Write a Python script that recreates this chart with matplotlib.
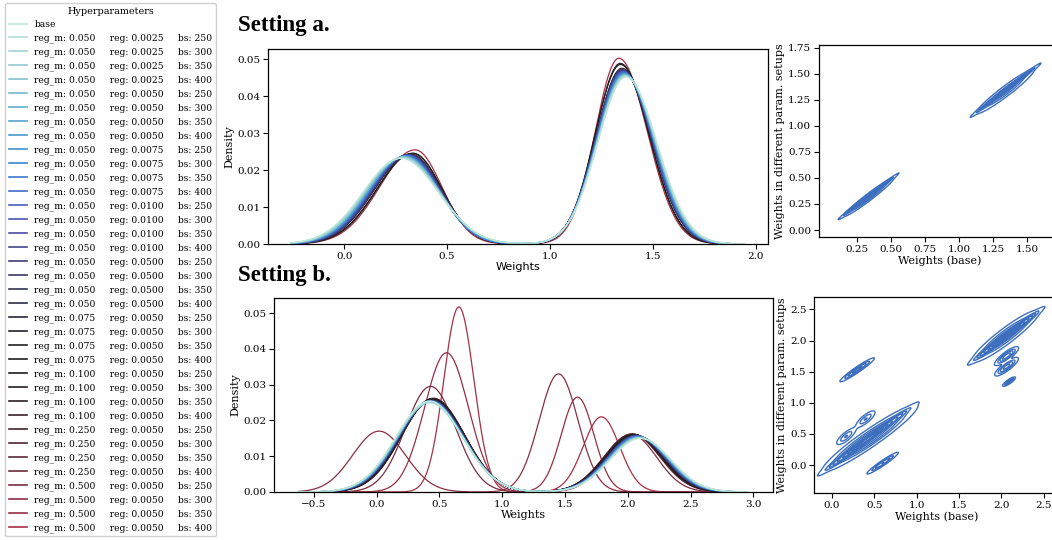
import numpy as np
import matplotlib
matplotlib.use("Agg")
import matplotlib.pyplot as plt
import seaborn as sns
from matplotlib.lines import Line2D

plt.rcParams['font.family'] = ['DejaVu Serif']

# hyperparameter settings (index 0 = base)
reg_m = [0.05] * 20 + [0.075] * 4 + [0.1] * 4 + [0.25] * 4 + [0.5] * 4
reg = [0.0025] * 4 + [0.005] * 4 + [0.0075] * 4 + [0.01] * 4 + [0.05] * 4 + [0.005] * 16
bs = [250, 300, 350, 400] * 9

# Setting a: two modes per run (center, height, left sd, right sd)
a_c1 = [0.275, 0.278, 0.281, 0.284, 0.287, 0.290, 0.292, 0.294, 0.296, 0.298, 0.300, 0.302, 0.304,
        0.306, 0.308, 0.310, 0.312, 0.316, 0.318, 0.320, 0.322, 0.305, 0.307, 0.309, 0.311, 0.333,
        0.334, 0.313, 0.315, 0.310, 0.312, 0.314, 0.316, 0.318, 0.320, 0.322, 0.345]
a_h1 = [0.0232, 0.0233, 0.0234, 0.0234, 0.0235, 0.0236, 0.0236, 0.0237, 0.0237, 0.0238, 0.0238,
        0.0239, 0.0239, 0.0240, 0.0240, 0.0241, 0.0241, 0.0242, 0.0242, 0.0243, 0.0243, 0.0239,
        0.0239, 0.0240, 0.0240, 0.0245, 0.0246, 0.0241, 0.0241, 0.0240, 0.0240, 0.0241, 0.0241,
        0.0242, 0.0242, 0.0243, 0.0255]
a_sl1 = [0.183, 0.182, 0.182, 0.181, 0.181, 0.180, 0.180, 0.180, 0.179, 0.179, 0.179, 0.178, 0.178,
         0.178, 0.177, 0.177, 0.177, 0.176, 0.176, 0.176, 0.176, 0.178, 0.178, 0.177, 0.177, 0.175,
         0.174, 0.177, 0.177, 0.177, 0.177, 0.177, 0.176, 0.176, 0.176, 0.176, 0.173]
a_sr1 = [0.183, 0.180, 0.178, 0.176, 0.174, 0.172, 0.170, 0.168, 0.166, 0.164, 0.162, 0.160, 0.158,
         0.157, 0.156, 0.155, 0.154, 0.152, 0.151, 0.150, 0.149, 0.158, 0.157, 0.156, 0.155, 0.142,
         0.141, 0.154, 0.153, 0.156, 0.155, 0.154, 0.153, 0.152, 0.151, 0.150, 0.130]
a_c2 = [1.370, 1.368, 1.367, 1.366, 1.365, 1.364, 1.363, 1.362, 1.361, 1.360, 1.359, 1.358, 1.357,
        1.356, 1.355, 1.354, 1.353, 1.352, 1.351, 1.350, 1.350, 1.358, 1.357, 1.356, 1.355, 1.343,
        1.342, 1.354, 1.353, 1.356, 1.355, 1.354, 1.353, 1.352, 1.351, 1.350, 1.335]
a_h2 = [0.0452, 0.0454, 0.0455, 0.0456, 0.0457, 0.0458, 0.0459, 0.0460, 0.0461, 0.0462, 0.0463,
        0.0464, 0.0465, 0.0466, 0.0467, 0.0468, 0.0469, 0.0470, 0.0471, 0.0472, 0.0476, 0.0465,
        0.0466, 0.0467, 0.0468, 0.0486, 0.0489, 0.0469, 0.0470, 0.0466, 0.0467, 0.0468, 0.0469,
        0.0470, 0.0471, 0.0472, 0.0503]
a_sl2 = [0.138, 0.137, 0.137, 0.136, 0.136, 0.135, 0.135, 0.134, 0.134, 0.133, 0.133, 0.132, 0.132,
         0.131, 0.131, 0.130, 0.130, 0.129, 0.129, 0.128, 0.127, 0.132, 0.132, 0.131, 0.131, 0.124,
         0.122, 0.130, 0.130, 0.131, 0.131, 0.130, 0.130, 0.129, 0.129, 0.128, 0.115]
a_sr2 = [0.150, 0.149, 0.149, 0.148, 0.148, 0.147, 0.147, 0.147, 0.146, 0.146, 0.146, 0.145, 0.145,
         0.145, 0.144, 0.144, 0.144, 0.143, 0.143, 0.143, 0.142, 0.145, 0.145, 0.145, 0.144, 0.140,
         0.139, 0.144, 0.144, 0.145, 0.144, 0.144, 0.144, 0.143, 0.143, 0.143, 0.138]

# Setting b
b_c1 = [0.420, 0.421, 0.422, 0.423, 0.424, 0.425, 0.426, 0.427, 0.428, 0.429, 0.430, 0.431, 0.432,
        0.433, 0.434, 0.435, 0.436, 0.437, 0.438, 0.439, 0.440, 0.441, 0.442, 0.443, 0.444, 0.445,
        0.446, 0.447, 0.448, 0.449, 0.450, 0.451, 0.452, 0.430, 0.020, 0.557, 0.655]
b_h1 = [0.0254, 0.0250, 0.0251, 0.0252, 0.0253, 0.0250, 0.0251, 0.0252, 0.0253, 0.0254, 0.0252,
        0.0253, 0.0254, 0.0255, 0.0253, 0.0254, 0.0255, 0.0256, 0.0254, 0.0255, 0.0256, 0.0257,
        0.0256, 0.0257, 0.0258, 0.0258, 0.0259, 0.0259, 0.0260, 0.0260, 0.0261, 0.0261, 0.0262,
        0.0295, 0.0170, 0.0389, 0.0517]
b_s1 = [0.265, 0.266, 0.265, 0.264, 0.264, 0.263, 0.263, 0.262, 0.262, 0.261, 0.261, 0.260, 0.260,
        0.259, 0.259, 0.258, 0.258, 0.257, 0.257, 0.256, 0.256, 0.255, 0.255, 0.254, 0.254, 0.253,
        0.253, 0.252, 0.252, 0.251, 0.251, 0.250, 0.250, 0.200, 0.210, 0.175, 0.120]
b_c2 = [2.100, 2.098, 2.096, 2.094, 2.092, 2.090, 2.088, 2.086, 2.084, 2.082, 2.080, 2.078, 2.076,
        2.074, 2.072, 2.070, 2.068, 2.066, 2.064, 2.062, 2.060, 2.058, 2.056, 2.054, 2.052, 2.050,
        2.048, 2.046, 2.044, 2.042, 2.040, 2.036, 2.032, 2.030, 1.449, 1.600, 1.790]
b_h2 = [0.0150, 0.0150, 0.0151, 0.0151, 0.0152, 0.0152, 0.0153, 0.0153, 0.0154, 0.0154, 0.0155,
        0.0155, 0.0155, 0.0156, 0.0156, 0.0156, 0.0157, 0.0157, 0.0157, 0.0158, 0.0158, 0.0158,
        0.0159, 0.0159, 0.0159, 0.0160, 0.0160, 0.0160, 0.0161, 0.0161, 0.0161, 0.0162, 0.0162,
        0.0160, 0.0330, 0.0265, 0.0210]
b_s2 = [0.240, 0.240, 0.239, 0.239, 0.238, 0.238, 0.237, 0.237, 0.236, 0.236, 0.235, 0.235, 0.234,
        0.234, 0.233, 0.233, 0.232, 0.232, 0.231, 0.231, 0.230, 0.230, 0.229, 0.229, 0.228, 0.228,
        0.227, 0.227, 0.226, 0.226, 0.225, 0.224, 0.223, 0.200, 0.155, 0.130, 0.145]

# 2D density components: (mx, my, sx, sy, rho, weight)
a_blobs = [
    (0.335, 0.325, 0.080, 0.080, 0.996, 0.22),
    (0.335, 0.315, 0.090, 0.090, 0.975, 0.16),
    (1.345, 1.345, 0.090, 0.090, 0.996, 0.36),
    (1.340, 1.330, 0.105, 0.105, 0.960, 0.26),
]
b_blobs = [
    (0.42, 0.41, 0.19, 0.19, 0.993, 0.24),
    (0.45, 0.43, 0.25, 0.24, 0.950, 0.24),
    (0.30, 1.53, 0.095, 0.090, 0.960, 0.024),
    (0.60, 0.03, 0.090, 0.085, 0.960, 0.018),
    (0.17, 0.46, 0.060, 0.070, 0.800, 0.014),
    (0.40, 0.74, 0.060, 0.070, 0.800, 0.014),
    (2.06, 2.08, 0.150, 0.155, 0.990, 0.17),
    (2.05, 2.07, 0.190, 0.200, 0.930, 0.13),
    (2.06, 1.75, 0.065, 0.070, 0.850, 0.026),
    (2.06, 1.58, 0.065, 0.070, 0.850, 0.024),
    (2.09, 1.34, 0.035, 0.035, 0.850, 0.007),
]

colors = sns.color_palette("icefire", as_cmap=True)(np.linspace(0.0, 0.73, 37))
labels = ['base'] + ['reg_m: {:.3f}     reg: {:.4f}     bs: {}'.format(m, r, b)
                     for m, r, b in zip(reg_m, reg, bs)]


def bump(x, c, h, sl, sr):
    s = np.where(x < c, sl, sr)
    return h * np.exp(-0.5 * ((x - c) / s) ** 2)


def density2d(X, Y, blobs):
    Z = np.zeros_like(X)
    for mx, my, sx, sy, rho, w in blobs:
        dx = (X - mx) / sx
        dy = (Y - my) / sy
        q = (dx ** 2 - 2 * rho * dx * dy + dy ** 2) / (1 - rho ** 2)
        Z += w * np.exp(-0.5 * q) / (2 * np.pi * sx * sy * np.sqrt(1 - rho ** 2))
    return Z


def iso_levels(Z, n=10, thresh=0.05):
    z = np.sort(Z.ravel())
    cum = np.cumsum(z)
    cum /= cum[-1]
    props = np.linspace(thresh, 1, n)[:-1]
    return [z[np.searchsorted(cum, p)] for p in props]


fig = plt.figure(figsize=(10.52, 5.4), dpi=100)

ax_a = fig.add_axes([0.2548, 0.5481, 0.4753, 0.3611])
ax_ar = fig.add_axes([0.7785, 0.5611, 0.2300, 0.3556])
ax_b = fig.add_axes([0.2605, 0.0889, 0.4743, 0.3593])
ax_br = fig.add_axes([0.7738, 0.0870, 0.2338, 0.3630])

xa = np.linspace(-0.26, 1.94, 600)
xb = np.linspace(-0.62, 2.95, 800)
for i in reversed(range(37)):
    ya = bump(xa, a_c1[i], a_h1[i], a_sl1[i], a_sr1[i]) + bump(xa, a_c2[i], a_h2[i], a_sl2[i], a_sr2[i])
    ax_a.plot(xa, ya, color=colors[i], lw=0.9)
    yb = bump(xb, b_c1[i], b_h1[i], b_s1[i], b_s1[i]) + bump(xb, b_c2[i], b_h2[i], b_s2[i], b_s2[i])
    ax_b.plot(xb, yb, color=colors[i], lw=0.9)

ax_a.set_xlim(-0.37, 2.06)
ax_a.set_ylim(0, 0.0528)
ax_a.set_xticks([0.0, 0.5, 1.0, 1.5, 2.0])
ax_a.set_yticks([0.0, 0.01, 0.02, 0.03, 0.04, 0.05])
ax_a.set_ylabel('Density')
ax_a.set_xlabel('Weights', fontfamily='DejaVu Sans')

ax_b.set_xlim(-0.816, 3.156)
ax_b.set_ylim(0, 0.0542)
ax_b.set_yticks([0.0, 0.01, 0.02, 0.03, 0.04, 0.05])
ax_b.set_ylabel('Density')
ax_b.set_xlabel('Weights')

g = np.linspace(-0.3, 1.9, 500)
X, Y = np.meshgrid(g, g)
Z = density2d(X, Y, a_blobs)
ax_ar.contour(X, Y, Z, levels=iso_levels(Z), colors='#3d6fbe', linewidths=1.0)
ax_ar.set_xlim(-0.031, 1.75)
ax_ar.set_ylim(-0.067, 1.776)
ax_ar.set_xticks([0.25, 0.5, 0.75, 1.0, 1.25, 1.5])
ax_ar.set_yticks([0.0, 0.25, 0.5, 0.75, 1.0, 1.25, 1.5, 1.75])

g = np.linspace(-0.6, 2.9, 600)
X, Y = np.meshgrid(g, g)
Z = density2d(X, Y, b_blobs)
ax_br.contour(X, Y, Z, levels=iso_levels(Z), colors='#3d6fbe', linewidths=1.0)
ax_br.set_xlim(-0.208, 2.69)
ax_br.set_ylim(-0.45, 2.70)
ax_br.set_xticks([0.0, 0.5, 1.0, 1.5, 2.0, 2.5])
ax_br.set_yticks([0.0, 0.5, 1.0, 1.5, 2.0, 2.5])

for ax in (ax_ar, ax_br):
    ax.set_xlabel('Weights (base)')
    ax.set_ylabel('Weights in different param. setups')

for ax in (ax_a, ax_ar, ax_b, ax_br):
    ax.tick_params(direction='out', length=3.5, width=0.8, labelsize=7.5, pad=2)
    ax.xaxis.label.set_size(8)
    ax.yaxis.label.set_size(8)
    ax.xaxis.labelpad = 1
    ax.yaxis.labelpad = 2
    for sp in ax.spines.values():
        sp.set_linewidth(0.9)

fig.text(238 / 1052, 1 - 31 / 540, 'Setting a.', fontfamily='Liberation Serif',
         fontweight='bold', fontsize=16.5, va='baseline')
fig.text(238 / 1052, 1 - 281 / 540, 'Setting b.', fontfamily='Liberation Serif',
         fontweight='bold', fontsize=16.5, va='baseline')

handles = [Line2D([], [], color=c, lw=1.2) for c in colors]
fig.legend(handles, labels, title='Hyperparameters', loc='upper left',
           bbox_to_anchor=(5 / 1052, 1 - 3 / 540), borderaxespad=0, fontsize=6.6,
           title_fontsize=6.9, labelspacing=0.47, borderpad=0.4, handlelength=2.0,
           framealpha=1, edgecolor='#d0d0d0')

fig.savefig('out.png', dpi=100)
